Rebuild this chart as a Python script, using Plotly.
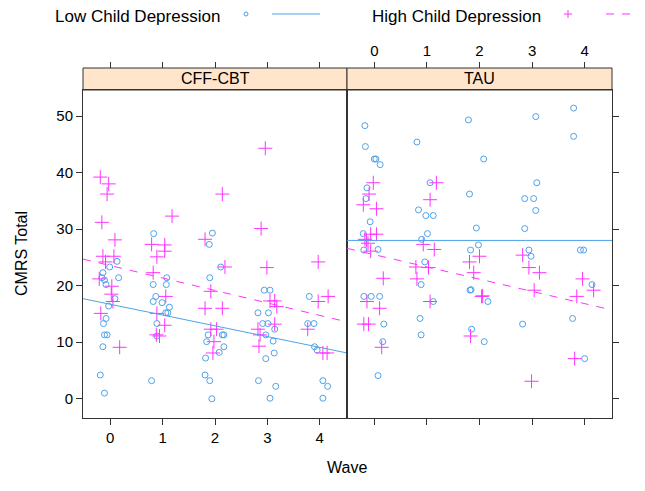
import plotly.graph_objects as go

# CMRS total by wave, split by treatment arm and child depression group
# (points carry the small horizontal jitter seen in the original)

# CFF-CBT, low child depression
cbt_low_wave = [0.83, 1.89, 1.95, 0.13, -0.01, -0.14, -0.16, -0.11, 0.16, -0.08, 0.09, -0.03, -0.08, -0.13,
                -0.11, -0.06, -0.14, -0.19, -0.11, 0.82, 1.08, 1.07, 0.87, 0.82, 0.99, 1.13, 1.06, 1.10, 0.89,
                0.89, 0.79, 1.90, 1.87, 1.84, 1.82, 1.81, 1.90, 1.94, 2.11, 2.94, 3.05, 3.80, 2.82, 3.02, 2.91,
                3.01, 3.14, 3.77, 3.89, 2.97, 3.11, 3.13, 2.97, 3.90, 3.95, 2.83, 3.16, 3.05, 4.06, 4.15, 4.06,
                2.14, 2.17, 2.17, 2.08]
cbt_low_cmrs = [29.2, 27.3, 29.3, 24.3, 23.3, 22.3, 21.4, 21.0, 21.4, 20.2, 17.7, 16.4, 14.2, 13.3,
                11.3, 11.3, 9.2, 4.2, 1.0, 20.2, 21.4, 20.2, 18.1, 17.2, 17.0, 16.2, 15.2, 15.2, 13.3,
                11.1, 3.2, 21.4, 11.3, 10.1, 7.2, 4.2, 3.2, 0.0, 23.3, 19.2, 19.2, 18.1, 15.2, 15.2, 13.3,
                13.3, 12.3, 13.3, 13.3, 11.3, 10.2, 8.1, 7.1, 9.2, 8.6, 3.2, 2.2, 0.1, 3.2, 2.2, 0.1,
                11.3, 11.3, 9.2, 8.2]

# CFF-CBT, high child depression
cbt_high_wave = [-0.19, -0.03, -0.06, -0.16, 1.18, 0.09, 0.79, 1.04, 1.81, -0.14, 0.07, -0.09, 1.04, 0.89,
                 -0.21, 0.03, 0.02, 0.05, -0.18, 0.82, 1.06, 0.89, 1.04, 0.88, 0.94, 0.18, 1.92, 1.81, 1.92,
                 2.03, 1.98, 1.96, 2.96, 2.14, 2.88, 2.19, 2.99, 3.97, 2.14, 4.16, 3.97, 3.05, 3.14, 3.18,
                 3.14, 3.77, 2.82, 2.86, 2.84, 4.06, 4.14]
cbt_high_cmrs = [39.2, 38.0, 36.2, 31.2, 32.3, 28.1, 27.3, 27.2, 28.2, 25.2, 25.2, 24.2, 26.1, 25.1,
                 21.2, 19.9, 18.5, 17.2, 15.1, 22.3, 18.1, 15.1, 13.0, 11.3, 11.1, 9.1, 19.0, 16.0, 12.3,
                 12.3, 10.1, 8.1, 44.3, 36.2, 30.1, 23.3, 23.2, 24.2, 16.0, 18.1, 17.2, 17.3, 17.3, 16.3,
                 13.2, 12.3, 12.3, 11.3, 9.3, 8.1, 8.1]

# TAU, low child depression
tau_low_wave = [-0.18, -0.17, 0.00, 0.03, 0.11, -0.14, -0.16, -0.08, -0.21, 0.81, 1.06, 0.84, 0.98, 1.12,
                1.01, 0.90, 1.79, 1.81, 1.94, 1.98, 2.08, -0.20, 0.07, -0.20, -0.06, 0.10, 0.18, 0.16, 0.07,
                0.96, 0.89, 1.12, 0.87, 0.89, 1.83, 1.82, 1.84, 1.85, 2.09, 3.79, 3.07, 3.79, 3.09, 2.86,
                3.03, 3.07, 2.86, 2.94, 2.98, 3.92, 3.98, 4.14, 2.16, 2.82, 3.77, 4.00]
tau_low_cmrs = [48.3, 44.6, 42.4, 42.4, 41.4, 37.3, 35.4, 31.3, 29.2, 45.4, 38.2, 33.4, 32.4, 32.4,
                29.2, 28.2, 49.3, 36.2, 30.2, 27.2, 42.4, 26.3, 26.4, 18.1, 18.1, 18.1, 13.2, 10.1, 4.1,
                24.2, 20.2, 17.2, 14.2, 11.3, 26.3, 19.2, 19.3, 12.3, 10.1, 51.4, 49.9, 46.4, 38.2, 35.4,
                35.4, 33.3, 30.1, 26.3, 25.2, 26.3, 26.3, 20.2, 17.2, 13.2, 14.2, 7.1]

# TAU, high child depression
tau_high_wave = [-0.02, -0.10, -0.21, 0.04, -0.07, 0.04, -0.18, -0.15, -0.12, 1.18, 1.06, 0.93, -0.07, 0.17,
                 -0.14, 0.10, -0.20, -0.11, 0.14, 1.14, 0.79, 1.03, 0.81, 1.06, 2.00, 1.81, 1.89, 2.04, 1.83,
                 2.82, 2.94, 3.14, 3.96, 4.17, 3.04, 3.85, 2.06, 3.81, 2.99]
tau_high_cmrs = [38.2, 36.2, 34.3, 33.6, 29.1, 29.1, 28.2, 28.0, 27.5, 38.2, 35.2, 27.3, 26.1, 21.3,
                 17.2, 16.0, 13.2, 13.2, 9.1, 26.4, 23.3, 23.2, 21.2, 17.2, 25.2, 24.2, 22.3, 18.1, 11.1,
                 25.4, 23.2, 22.3, 21.2, 19.2, 19.2, 18.1, 18.2, 7.1, 3.1]

# fitted lines, given at the panel edges
fit_wave = [-0.52, 4.52]
cbt_low_fit = [17.7, 8.1]
cbt_high_fit = [24.7, 13.6]
tau_low_fit = [28.0, 28.0]
tau_high_fit = [26.6, 15.7]

waves = [0, 1, 2, 3, 4]
cmrs_ticks = [0, 10, 20, 30, 40, 50]
panels = ["CFF-CBT", "TAU"]

BLUE = "#4ea3ea"
PINK = "#ff33ff"
AXCOL = "#333333"
FONT = "Liberation Sans"

fig = go.Figure()

def add_panel(xa, ya, lw, lc, hw, hc, lfit, hfit):
    fig.add_trace(go.Scatter(x=lw, y=lc, mode="markers", xaxis=xa, yaxis=ya,
                             marker=dict(symbol="circle-open", size=6, color=BLUE, line=dict(width=1))))
    fig.add_trace(go.Scatter(x=hw, y=hc, mode="markers", xaxis=xa, yaxis=ya,
                             marker=dict(symbol="cross-thin-open", size=10, color=PINK, line=dict(width=1, color=PINK))))
    fig.add_trace(go.Scatter(x=fit_wave, y=lfit, mode="lines", xaxis=xa, yaxis=ya,
                             line=dict(color=BLUE, width=1)))
    fig.add_trace(go.Scatter(x=fit_wave, y=hfit, mode="lines", xaxis=xa, yaxis=ya,
                             line=dict(color=PINK, width=1, dash="8px,8px")))

add_panel("x", "y", cbt_low_wave, cbt_low_cmrs, cbt_high_wave, cbt_high_cmrs, cbt_low_fit, cbt_high_fit)
add_panel("x2", "y2", tau_low_wave, tau_low_cmrs, tau_high_wave, tau_high_cmrs, tau_low_fit, tau_high_fit)

# dummy traces so the top axes get drawn
fig.add_trace(go.Scatter(x=[None], y=[None], xaxis="x3", yaxis="y", hoverinfo="skip"))
fig.add_trace(go.Scatter(x=[None], y=[None], xaxis="x4", yaxis="y2", hoverinfo="skip"))

# plot area on screen: 83..612 wide, 68..418 tall (page body adds 8px, so margins are 8 less)
W, H = 529.0, 350.0
split = 264 / W
ytop = 328 / H

def px(x):
    return (x - 83) / W

def py(y):
    return (418 - y) / H

xcommon = dict(range=[-0.52, 4.52], tickvals=waves, ticks="outside", ticklen=6, tickcolor=AXCOL,
               showgrid=False, zeroline=False, tickfont=dict(size=15, color="black"))
ycommon = dict(range=[-3.4, 54.6], tickvals=cmrs_ticks, ticks="outside", ticklen=6, tickcolor=AXCOL,
               showgrid=False, zeroline=False, domain=[0, ytop], showline=True, mirror=True,
               linecolor=AXCOL, tickfont=dict(size=15, color="black"))

fig.update_layout(
    width=645, height=491,
    margin=dict(l=75, r=41, t=60, b=81),
    plot_bgcolor="white", paper_bgcolor="white",
    showlegend=False,
    font=dict(family=FONT, color="black"),
    xaxis=dict(domain=[0, split], anchor="y", showline=True, mirror=True, linecolor=AXCOL, **xcommon),
    xaxis2=dict(domain=[split, 1], anchor="y2", showline=True, mirror=True, linecolor=AXCOL,
                showticklabels=False, **xcommon),
    xaxis3=dict(overlaying="x", side="top", anchor="free", position=1, showticklabels=False, **xcommon),
    xaxis4=dict(overlaying="x2", side="top", anchor="free", position=1, **xcommon),
    yaxis=dict(anchor="x", **ycommon),
    yaxis2=dict(anchor="x2", side="right", showticklabels=False, **ycommon),
)

shapes = []
annotations = []
# strips
for i, name in enumerate(panels):
    x0, x1 = (0, split) if i == 0 else (split, 1)
    shapes.append(dict(type="rect", xref="paper", yref="paper", x0=x0, x1=x1, y0=ytop, y1=1,
                       fillcolor="#ffe5cc", line=dict(color=AXCOL, width=1), layer="below"))
    annotations.append(dict(text=name, xref="paper", yref="paper", x=(x0 + x1) / 2, y=(ytop + 1) / 2,
                            showarrow=False, font=dict(size=16), xanchor="center", yanchor="middle"))

# axis titles
annotations.append(dict(text="Wave", xref="paper", yref="paper", x=split, y=py(467), showarrow=False,
                        font=dict(size=16), xanchor="center", yanchor="middle"))
annotations.append(dict(text="CMRS Total", xref="paper", yref="paper", x=px(22), y=py(254), showarrow=False,
                        font=dict(size=16), textangle=-90, xanchor="center", yanchor="middle"))

# key across the top
annotations.append(dict(text="Low Child Depression", xref="paper", yref="paper", x=px(53), y=py(16),
                        showarrow=False, font=dict(size=17), xanchor="left", yanchor="middle"))
annotations.append(dict(text="High Child Depression", xref="paper", yref="paper", x=px(370), y=py(16),
                        showarrow=False, font=dict(size=17), xanchor="left", yanchor="middle"))
shapes.append(dict(type="circle", xref="paper", yref="paper", x0=px(244), x1=px(248), y0=py(16), y1=py(12),
                   line=dict(color=BLUE, width=1)))
shapes.append(dict(type="line", xref="paper", yref="paper", x0=px(272), x1=px(320), y0=py(14), y1=py(14),
                   line=dict(color=BLUE, width=1)))
shapes.append(dict(type="line", xref="paper", yref="paper", x0=px(564), x1=px(572), y0=py(14), y1=py(14),
                   line=dict(color=PINK, width=1)))
shapes.append(dict(type="line", xref="paper", yref="paper", x0=px(568), x1=px(568), y0=py(18), y1=py(10),
                   line=dict(color=PINK, width=1)))
shapes.append(dict(type="line", xref="paper", yref="paper", x0=px(606), x1=px(650), y0=py(14), y1=py(14),
                   line=dict(color=PINK, width=1, dash="8px,8px")))

fig.update_layout(shapes=shapes, annotations=annotations)

fig.write_html("out.html")
